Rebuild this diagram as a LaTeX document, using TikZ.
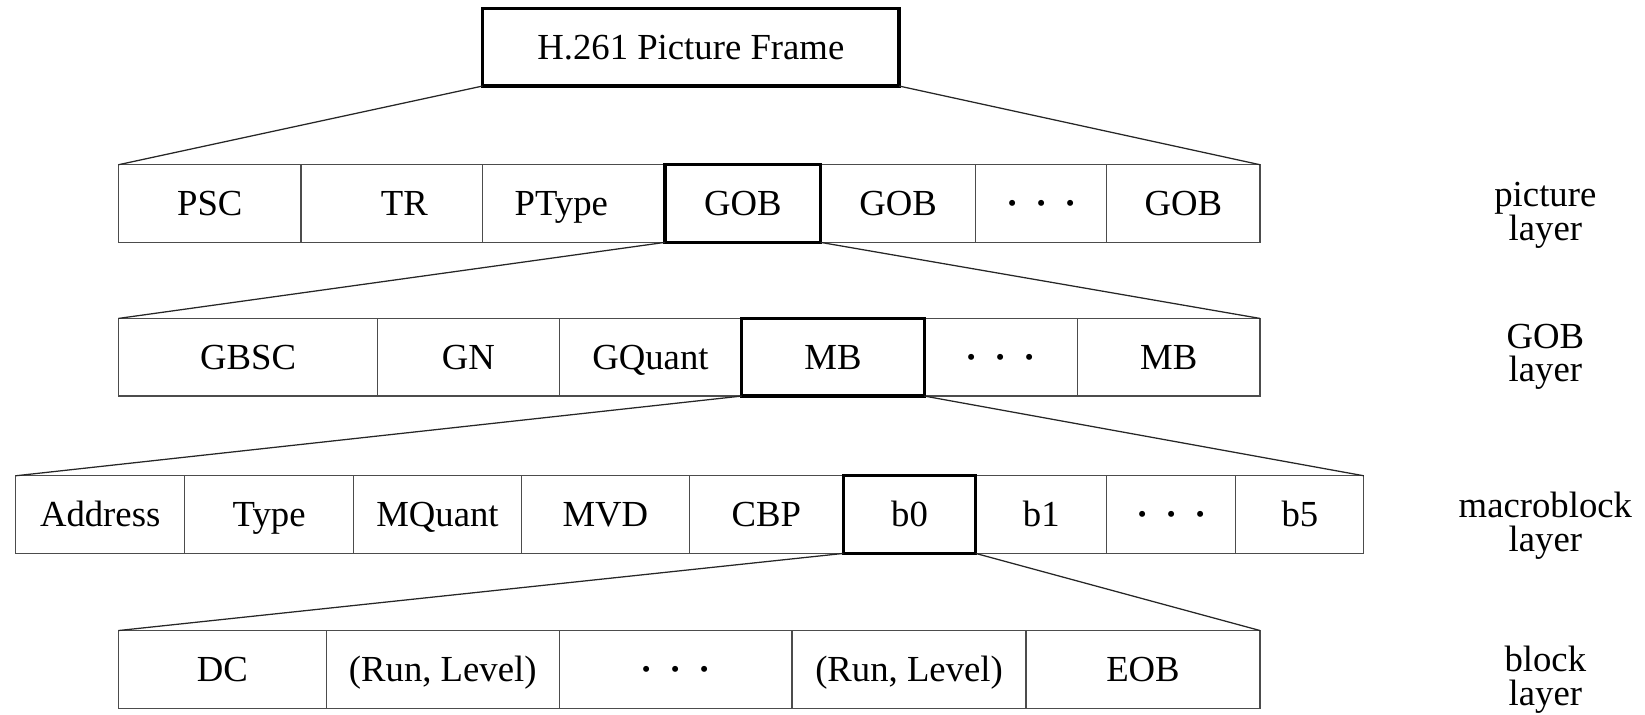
\documentclass[tikz,border=0pt]{standalone}
\usepackage{fontspec}
\setmainfont{Liberation Serif}
\begin{document}
\begin{tikzpicture}[x=0.5pt,y=-0.5pt,
  cell/.style={draw=black!70, line width=0.6pt, inner sep=0pt, outer sep=0pt,
    minimum height=37pt, text height=14pt, text depth=2.4pt,
    font=\fontsize{17.5}{19}\selectfont},
  boldcell/.style={cell, draw=black, line width=1.6pt},
  link/.style={draw=black!85, line width=0.6pt},
  layer/.style={align=center, font=\fontsize{17.5}{16}\selectfont}]
\useasboundingbox (0,0) rectangle (1568,681);

% one field of a layer: name, left x, right x, centre y, text, style
\newcommand\fld[6]{%
  \pgfmathsetmacro\fldw{(#3-#2)*0.5}%
  \node[#6, minimum width=\fldw pt] (#1) at ({(#2+#3)/2},#4) {#5};}
\newcommand\elide{{\bfseries ·\hspace{8pt}·\hspace{8pt}·}}

% picture frame
\node[boldcell, minimum width=198.5pt] (top) at (658.5,45) {H.261 Picture Frame};

% picture layer
\fld{psc}{113}{287}{194}{PSC}{cell}
\fld{tr}{287}{460}{194}{\hspace*{12pt}TR}{cell}
\fld{ptype}{460}{634}{194}{PType\hspace*{12pt}}{cell}
\fld{gobb}{782}{930}{194}{GOB}{cell}
\fld{dotsa}{930}{1055}{194}{\elide}{cell}
\fld{gobc}{1055}{1201}{194}{GOB}{cell}
\fld{goba}{634}{782}{194}{GOB}{boldcell}

% GOB layer
\fld{gbsc}{113}{360}{340.5}{GBSC}{cell}
\fld{gn}{360}{533}{340.5}{GN}{cell}
\fld{gquant}{533}{707}{340.5}{GQuant}{cell}
\fld{dotsb}{881}{1027}{340.5}{\elide}{cell}
\fld{mbb}{1027}{1201}{340.5}{MB}{cell}
\fld{mba}{707}{881}{340.5}{MB}{boldcell}

% macroblock layer
\fld{address}{15}{176}{490.5}{Address}{cell}
\fld{type}{176}{337}{490.5}{Type}{cell}
\fld{mquant}{337}{497}{490.5}{MQuant}{cell}
\fld{mvd}{497}{657}{490.5}{MVD}{cell}
\fld{cbp}{657}{804}{490.5}{CBP}{cell}
\fld{bone}{930}{1055}{490.5}{b1}{cell}
\fld{dotsc}{1055}{1178}{490.5}{\elide}{cell}
\fld{bfive}{1178}{1300}{490.5}{b5}{cell}
\fld{bzero}{804}{930}{490.5}{b0}{boldcell}

% block layer
\fld{dc}{113}{311}{638}{DC}{cell}
\fld{rla}{311}{533}{638}{(Run, Level)}{cell}
\fld{dotsd}{533}{755}{638}{\elide}{cell}
\fld{rlb}{755}{978}{638}{(Run, Level)}{cell}
\fld{eob}{978}{1201}{638}{EOB}{cell}

% expansion lines
\draw[link] (top.south west) -- (psc.north west);
\draw[link] (top.south east) -- (gobc.north east);
\draw[link] (goba.south west) -- (gbsc.north west);
\draw[link] (goba.south east) -- (mbb.north east);
\draw[link] (mba.south west) -- (address.north west);
\draw[link] (mba.south east) -- (bfive.north east);
\draw[link] (bzero.south west) -- (dc.north west);
\draw[link] (bzero.south east) -- (eob.north east);

% layer names
\node[layer] (lpic) at (1473,205) {picture\\layer};
\node[layer] (lgob) at (1473,340) {GOB\\layer};
\node[layer] (lmb) at (1473,501) {macroblock\\layer};
\node[layer] (lblk) at (1473,648) {block\\layer};
\end{tikzpicture}
\end{document}
